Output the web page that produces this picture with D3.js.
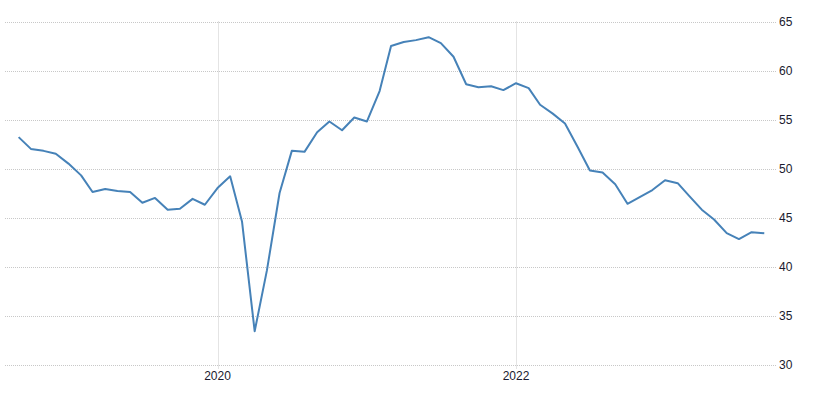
<!DOCTYPE html>
<html>
<head>
<meta charset="utf-8">
<script src="https://cdnjs.cloudflare.com/ajax/libs/d3/7.8.5/d3.min.js"></script>
<style>
  html, body { margin: 0; padding: 0; background: #fff; }
  text { font-family: "Liberation Sans", Arial, sans-serif; font-size: 12px; fill: #1a1a2e; }
</style>
</head>
<body>
<svg id="chart" width="813" height="394"></svg>
<script>
// monthly values, Sep 2018 .. Sep 2023
const startMonth = '2018-09';
const values = [
  53.2, 52.0, 51.8, 51.5,
  50.5, 49.3, 47.6, 47.9, 47.7, 47.6, 46.5, 47.0, 45.8, 45.9, 46.9, 46.3,
  48.0, 49.2, 44.6, 33.4, 39.6, 47.5, 51.8, 51.7, 53.7, 54.8, 53.9, 55.2,
  54.8, 57.9, 62.5, 62.9, 63.1, 63.4, 62.8, 61.4, 58.6, 58.3, 58.4, 58.0,
  58.7, 58.2, 56.5, 55.6, 54.6, 52.2, 49.8, 49.6, 48.4, 46.4, 47.1, 47.8,
  48.8, 48.5, 47.2, 45.8, 44.8, 43.4, 42.8, 43.5, 43.4
];
const yTicks = [30, 35, 40, 45, 50, 55, 60, 65];
const xTickYears = [2020, 2022];

const start = d3.timeParse('%Y-%m')(startMonth);
const data = values.map((v, i) => ({ date: d3.timeMonth.offset(start, i), value: v }));

const svg = d3.select('#chart');

const x = d3.scaleTime()
  .domain([new Date(2020, 0, 1), new Date(2022, 0, 1)])
  .range([217.5, 516]);
const y = d3.scaleLinear().domain([30, 65]).range([364.5, 21.5]);

const gridLeft = 5, gridRight = 777;

// horizontal grid
svg.append('g')
  .selectAll('line')
  .data(yTicks)
  .join('line')
  .attr('x1', gridLeft).attr('x2', gridRight)
  .attr('y1', d => Math.round(y(d)) + 0.5)
  .attr('y2', d => Math.round(y(d)) + 0.5)
  .attr('stroke', '#c8c8c8')
  .attr('stroke-dasharray', '1,1');

// vertical grid
const xTickDates = xTickYears.map(yr => new Date(yr, 0, 1));
svg.append('g')
  .selectAll('line')
  .data(xTickDates)
  .join('line')
  .attr('x1', d => Math.round(x(d)) + 0.5)
  .attr('x2', d => Math.round(x(d)) + 0.5)
  .attr('y1', y(65)).attr('y2', y(30) + 4)
  .attr('stroke', '#c8c8c8')
  .attr('stroke-dasharray', '1,1');

// y labels on the right
svg.append('g')
  .selectAll('text')
  .data(yTicks)
  .join('text')
  .attr('x', 779)
  .attr('y', d => y(d))
  .attr('dy', '0.35em')
  .text(d => d);

// x labels
svg.append('g')
  .selectAll('text')
  .data(xTickDates)
  .join('text')
  .attr('x', d => x(d))
  .attr('y', 380)
  .attr('text-anchor', 'middle')
  .text(d => d3.timeFormat('%Y')(d));

// line
const line = d3.line()
  .x(d => x(d.date))
  .y(d => y(d.value));

svg.append('path')
  .datum(data)
  .attr('fill', 'none')
  .attr('stroke', '#4682b8')
  .attr('stroke-width', 2)
  .attr('stroke-linejoin', 'round')
  .attr('d', line);
</script>
</body>
</html>
